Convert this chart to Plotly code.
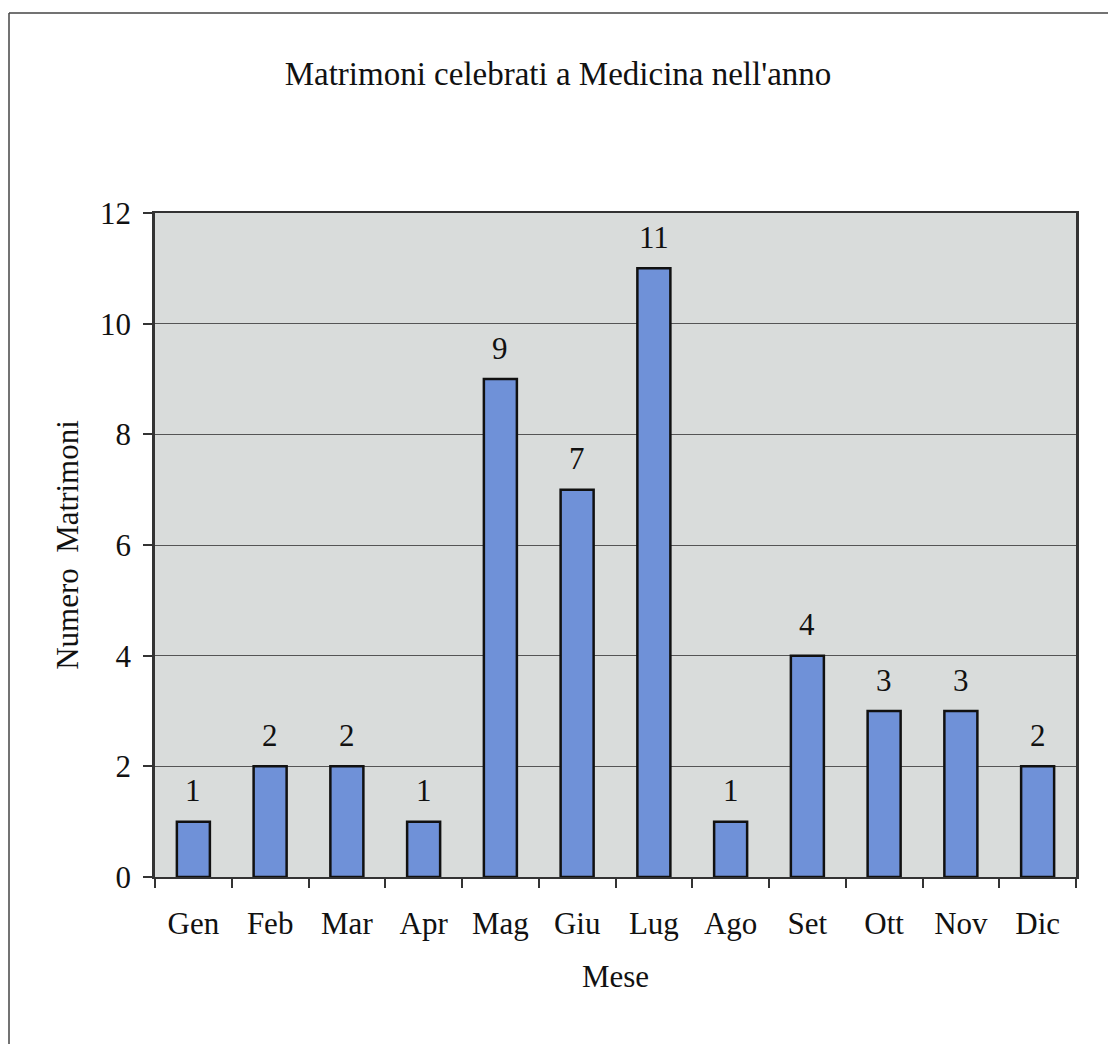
import plotly.graph_objects as go

months = ["Gen", "Feb", "Mar", "Apr", "Mag", "Giu", "Lug", "Ago", "Set", "Ott", "Nov", "Dic"]
values = [1, 2, 2, 1, 9, 7, 11, 1, 4, 3, 3, 2]
y_ticks = [0, 2, 4, 6, 8, 10, 12]

FONT = "Liberation Serif"
FS = 31

W, H = 1100, 1036
ML, MR, MT, MB = 147, 32, 205, 167
PW, PH = W - ML - MR, H - MT - MB

fig = go.Figure()
fig.add_trace(go.Bar(
    x=months, y=values,
    marker=dict(color="#6f91d8", line=dict(color="#111111", width=2.5)),
    width=0.43,
    hoverinfo="x+y",
))

for m, v in zip(months, values):
    fig.add_annotation(x=m, y=v, text=str(v), showarrow=False, yanchor="middle",
                       yshift=31, font=dict(family=FONT, size=FS, color="#111111"))

fig.update_layout(
    width=W, height=H,
    margin=dict(l=ML, r=MR, t=MT, b=MB),
    paper_bgcolor="white", plot_bgcolor="#d9dcdb",
    font=dict(family=FONT, size=FS, color="#111111"),
    showlegend=False,
    title=dict(text="Matrimoni celebrati a Medicina nell'anno", x=0.5, xref="container",
               xanchor="center", y=1 - 65 / H, yref="container", yanchor="middle",
               font=dict(family=FONT, size=33)),
    xaxis=dict(
        title=dict(text="Mese", standoff=25, font=dict(family=FONT, size=FS)),
        tickson="boundaries", ticks="outside", ticklen=9, tickcolor="#333333", tickwidth=1.5,
        showline=True, linecolor="#333333", linewidth=2, mirror=True,
        showgrid=False, ticklabelstandoff=18,
    ),
    yaxis=dict(
        title=dict(text="Numero  Matrimoni", standoff=13, font=dict(family=FONT, size=FS)),
        range=[0, 12], tickvals=y_ticks, ticks="outside", ticklen=9, tickcolor="#333333",
        tickwidth=1.5,
        showline=True, linecolor="#333333", linewidth=2.5, mirror=True,
        showgrid=True, gridcolor="#555555", gridwidth=1, zeroline=False,
        ticklabelstandoff=6,
    ),
    shapes=[
        dict(type="line", xref="paper", yref="paper", x0=-(ML - 1) / PW, x1=(W - ML) / PW,
             y0=1 + (MT - 5) / PH, y1=1 + (MT - 5) / PH, line=dict(color="#444444", width=1.5)),
        dict(type="line", xref="paper", yref="paper", x0=-(ML - 1) / PW, x1=-(ML - 1) / PW,
             y0=1 + (MT - 5) / PH, y1=-MB / PH, line=dict(color="#444444", width=1.5)),
    ],
)

fig.write_html("out.html")
